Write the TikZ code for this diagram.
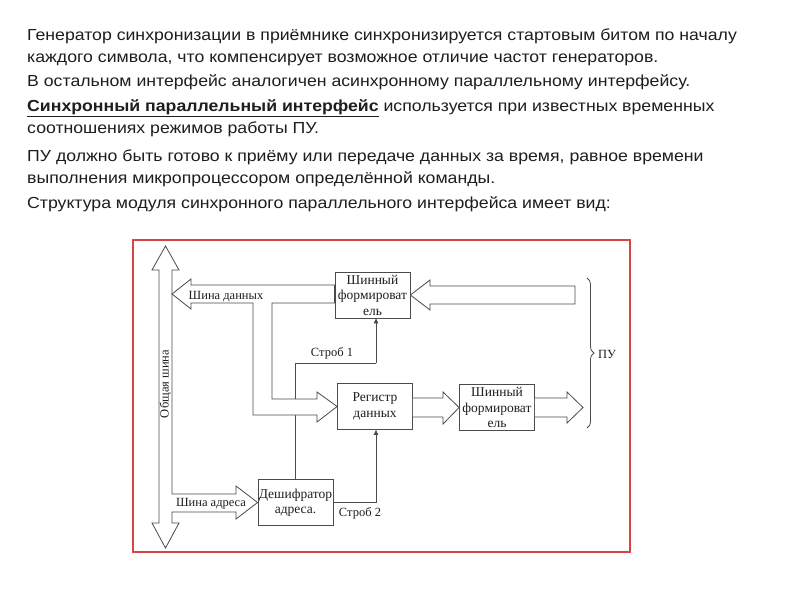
\documentclass[tikz,border=0pt]{standalone}
\usepackage{fontspec}
\setmainfont{Liberation Serif}
\newfontfamily\slidesans{Liberation Sans}
\usetikzlibrary{arrows.meta,decorations.pathreplacing}
\definecolor{framered}{RGB}{214,70,70}
\definecolor{ink}{RGB}{75,75,75}
\definecolor{txt}{RGB}{30,30,30}
\begin{document}
\begin{tikzpicture}[x=1pt,y=-1pt,
  blk/.style={draw=ink,line width=0.8pt,fill=white,minimum width=75pt,minimum height=46pt,inner sep=0pt,align=center,font=\fontsize{13.5}{15.5}\selectfont,text=txt},
  fat/.style={draw=ink,line width=0.8pt,fill=white,line join=miter},
  wire/.style={draw=ink,line width=0.8pt},
  sig/.style={wire,-{Triangle[length=5pt,width=4.5pt]}},
  lbl/.style={font=\fontsize{12.5}{14}\selectfont,inner sep=0pt,text=txt},
  para/.style={anchor=base west,inner sep=0pt,xscale=1.105,font=\slidesans\fontsize{16}{19}\selectfont,text=txt}]
\useasboundingbox (0,0) rectangle (800,600);
\fill[white] (0,0) rectangle (800,600);

% slide text
\node[para] (t1) at (27,40) {Генератор синхронизации в приёмнике синхронизируется стартовым битом по началу};
\node[para] (t2) at (27,62) {каждого символа, что компенсирует возможное отличие частот генераторов.};
\node[para] (t3) at (27,86) {В остальном интерфейс аналогичен асинхронному параллельному интерфейсу.};
\node[para] (t4) at (27,111) {\textbf{\underline{Синхронный параллельный интерфейс}} используется при известных временных};
\node[para] (t5) at (27,133) {соотношениях режимов работы ПУ.};
\node[para] (t6) at (27,161) {ПУ должно быть готово к приёму или передаче данных за время, равное времени};
\node[para] (t7) at (27,183) {выполнения микропроцессором определённой команды.};
\node[para] (t8) at (27,208) {Структура модуля синхронного параллельного интерфейса имеет вид:};

% frame
\draw[framered,line width=1.6pt] (133,240) rectangle (630,552);

% blocks
\node[blk] (sh1) at (372.5,295) {Шинный\\формироват\\ель};
\node[blk] (reg) at (375,406.5) {Регистр\\данных};
\node[blk] (dec) at (295.5,502.5) {Дешифратор\\адреса.};
\node[blk] (sh2) at (497,407.5) {Шинный\\формироват\\ель};

% strobe wires
\coordinate (s1) at (376,363);
\coordinate (s2) at (376,502.5);
\draw[wire] (dec.north) |- (s1);
\draw[sig] (s1) -- (s1 |- sh1.south);
\draw[sig] (dec.east) -- (s2) -- (s2 |- reg.south);
\node[lbl] (ls1) at (332,353) {Строб 1};
\node[lbl] (ls2) at (360,513) {Строб 2};

% common bus with address bus
\draw[fat] (165.5,246) -- (179,270) -- (172,270) -- (172,494) -- (236,494) -- (236,486)
  -- (dec.west) -- (236,519) -- (236,512) -- (172,512) -- (172,523) -- (179,523)
  -- (165.5,548) -- (152,523) -- (159,523) -- (159,270) -- (152,270) -- cycle;

% data bus with branch to register
\draw[fat] (172,294) -- (191,279) -- (191,285) -- (sh1.west |- 0,285) -- (sh1.west |- 0,303)
  -- (272,303) -- (272,399) -- (317,399) -- (317,392) -- (reg.west) -- (317,422) -- (317,415)
  -- (253,415) -- (253,303) -- (191,303) -- (191,309) -- cycle;

% from PU to top bus driver
\draw[fat] (sh1.east) -- (430,280) -- (430,286) -- (575,286) -- (575,304) -- (430,304) -- (430,310) -- cycle;

% register -> driver 2
\draw[fat] (reg.east |- 0,398) -- (443,398) -- (443,392) -- (sh2.west) -- (443,424) -- (443,417) -- (reg.east |- 0,417);

% driver 2 -> PU
\draw[fat] (sh2.east |- 0,398) -- (567,398) -- (567,392) -- (583,407.5) -- (567,423) -- (567,417) -- (sh2.east |- 0,417);

% labels on buses
\node[lbl] (ld) at (226,297) {Шина данных};
\node[lbl] (la) at (211,504) {Шина адреса};
\node[lbl,rotate=90] (lc) at (165.5,384) {Общая шина};

% brace and PU
\draw[ink,line width=0.8pt,decorate,decoration={brace,amplitude=7pt}] (587,278) -- (587,428);
\node[lbl,anchor=west] (pu) at (598,354) {ПУ};
\end{tikzpicture}
\end{document}
